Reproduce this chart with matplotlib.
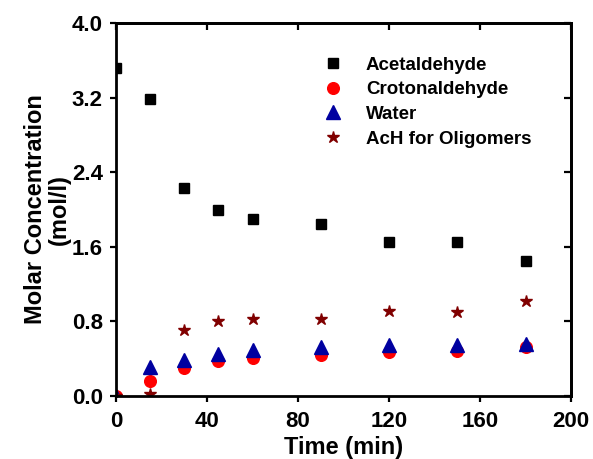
import matplotlib
matplotlib.use("Agg")
import matplotlib.pyplot as plt

plt.rcParams['font.family'] = ['Liberation Sans', 'DejaVu Sans']
plt.rcParams['font.weight'] = 'bold'

time_min = [0, 15, 30, 45, 60, 90, 120, 150, 180]
acetaldehyde = [3.52, 3.18, 2.23, 1.99, 1.90, 1.84, 1.65, 1.65, 1.45]
crotonaldehyde = [0.0, 0.16, 0.30, 0.375, 0.41, 0.44, 0.475, 0.48, 0.53]
water = [0.0, 0.31, 0.39, 0.45, 0.49, 0.52, 0.55, 0.55, 0.555]
ach_oligomers = [0.0, 0.02, 0.71, 0.80, 0.83, 0.83, 0.91, 0.90, 1.02]

x_ticks = [0, 40, 80, 120, 160, 200]
y_ticks = [0.0, 0.8, 1.6, 2.4, 3.2, 4.0]

fig = plt.figure(figsize=(5.93, 4.59), dpi=100)
ax = fig.add_axes([0.1956, 0.1373, 0.7674, 0.8127])

ax.plot(time_min, acetaldehyde, ls='none', marker='s', ms=7.2, color='black',
        label='Acetaldehyde')
ax.plot(time_min, crotonaldehyde, ls='none', marker='o', ms=8.4, color='#ff0000',
        label='Crotonaldehyde')
ax.plot(time_min, water, ls='none', marker='^', ms=9.4, color='#0000a0',
        label='Water')
ax.plot(time_min, ach_oligomers, ls='none', marker='*', ms=8.8, color='#800000',
        label='AcH for Oligomers')

ax.set_xlim(0, 200)
ax.set_ylim(0, 4.0)
ax.set_xticks(x_ticks)
ax.set_yticks(y_ticks)
ax.set_xticklabels([str(t) for t in x_ticks])
ax.set_yticklabels([f'{t:.1f}' for t in y_ticks])

for s in ax.spines.values():
    s.set_linewidth(2.0)

# bottom/left ticks point outward
ax.tick_params(axis='both', which='major', labelsize=16, width=1.6, length=4.5,
               direction='out')
ax.tick_params(axis='x', pad=6)
ax.tick_params(axis='y', pad=5)

# top/right ticks point inward, unlabeled
top = ax.secondary_xaxis('top')
top.set_xticks(x_ticks)
top.tick_params(direction='in', length=5, width=1.6, labeltop=False)
top.spines['top'].set_linewidth(2.0)
right = ax.secondary_yaxis('right')
right.set_yticks(y_ticks)
right.tick_params(direction='in', length=5, width=1.6, labelright=False)
right.spines['right'].set_linewidth(2.0)

ax.set_xlabel('Time (min)', fontsize=17, fontweight='bold', labelpad=3)
ax.set_ylabel('Molar Concentration\n(mol/l)', fontsize=17, fontweight='bold',
              labelpad=1, linespacing=1.0)

leg = ax.legend(loc='upper left', bbox_to_anchor=(0.456, 0.91), frameon=False,
                prop={'size': 13.5, 'weight': 'bold'}, borderpad=0,
                borderaxespad=0, handlelength=1.0, handletextpad=1.26,
                labelspacing=0.4)

fig.savefig('out.png', dpi=100)
